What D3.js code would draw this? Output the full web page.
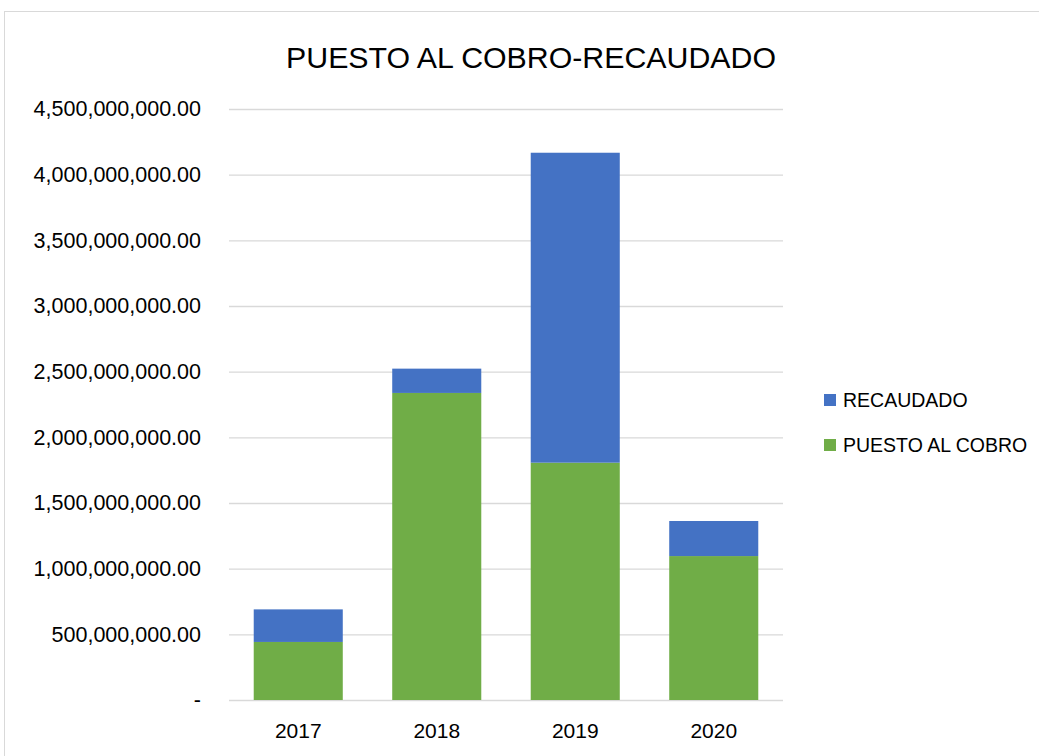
<!DOCTYPE html>
<html><head><meta charset="utf-8">
<script src="https://cdn.jsdelivr.net/npm/d3@7"></script>
<style>body{margin:0;background:#fff;} svg{display:block;}</style>
</head><body>
<svg id="c" width="1039" height="756"></svg>
<script>
const categories = ["2017","2018","2019","2020"];
const puestoAlCobro = [442000000, 2338000000, 1807000000, 1096000000];
const recaudado = [248000000, 185000000, 2360000000, 267000000];
const yTicks = [0,500000000,1000000000,1500000000,2000000000,2500000000,3000000000,3500000000,4000000000,4500000000];
const seriesNames = ["PUESTO AL COBRO","RECAUDADO"];
const colors = {"PUESTO AL COBRO":"#70ad47","RECAUDADO":"#4472c4"};

const svg = d3.select("#c");
const font = "'Liberation Sans', Arial, sans-serif";
svg.append("rect").attr("x",4.5).attr("y",11.5).attr("width",1040).attr("height",760)
  .attr("fill","#fff").attr("stroke","#d9d9d9");

const x = d3.scaleBand().domain(categories).range([229,783]).paddingInner(0.357).paddingOuter(0.1785);
const y = d3.scaleLinear().domain([0,4500000000]).range([700,109]);

svg.append("text").attr("x",531).attr("y",68).attr("text-anchor","middle")
  .attr("font-family",font).attr("font-size",30.3).attr("fill","#000").text("PUESTO AL COBRO-RECAUDADO");

const fmt = d3.format(",.2f");
const yAxis = d3.axisLeft(y).tickValues(yTicks).tickSize(-(783-229)).tickFormat(d => d===0 ? "-" : fmt(d)).tickPadding(28);
const ga = svg.append("g").attr("transform","translate(229,0)").call(yAxis);
ga.select(".domain").remove();
ga.selectAll(".tick line").attr("stroke","#d9d9d9").attr("stroke-width",1.3);
ga.selectAll(".tick text").attr("font-family",font).attr("font-size",21.5).attr("fill","#000");

const data = categories.map((c,i)=>({cat:c,"PUESTO AL COBRO":puestoAlCobro[i],"RECAUDADO":recaudado[i]}));
const stack = d3.stack().keys(seriesNames)(data);
svg.append("g").selectAll("g").data(stack).join("g").attr("fill",d=>colors[d.key])
  .selectAll("rect").data(d=>d).join("rect")
  .attr("x",d=>x(d.data.cat)).attr("width",x.bandwidth())
  .attr("y",d=>y(d[1])).attr("height",d=>y(d[0])-y(d[1]));

const xAxis = d3.axisBottom(x).tickSize(0).tickPadding(23);
const gx = svg.append("g").attr("transform","translate(0,700)").call(xAxis);
gx.select(".domain").remove();
gx.selectAll(".tick text").attr("font-family",font).attr("font-size",21).attr("fill","#000");

const legendItems = ["RECAUDADO","PUESTO AL COBRO"];
const lg = svg.append("g").selectAll("g").data(legendItems).join("g")
  .attr("transform",(d,i)=>`translate(824,${394+i*45})`);
lg.append("rect").attr("width",12).attr("height",12).attr("fill",d=>colors[d]);
lg.append("text").attr("x",19).attr("y",13).attr("font-family",font).attr("font-size",19.5).attr("fill","#000").text(d=>d);
</script>
</body></html>
